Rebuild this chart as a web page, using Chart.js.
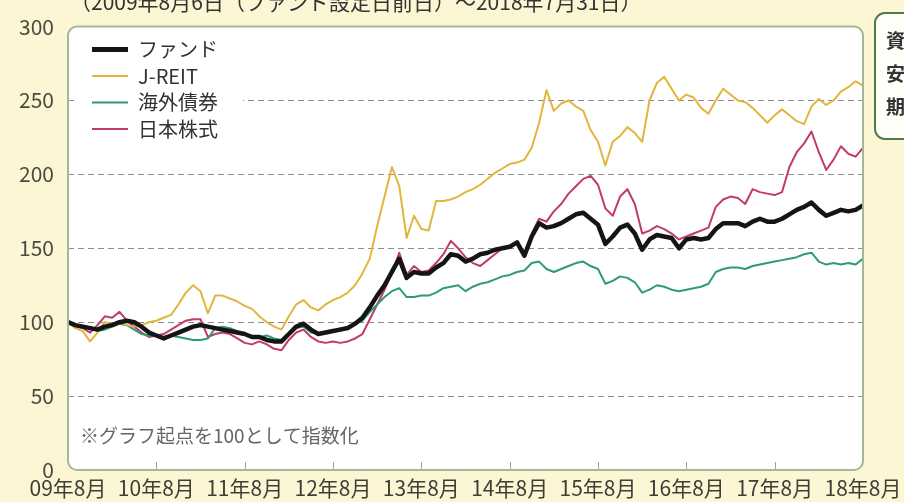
<!DOCTYPE html>
<html>
<head>
<meta charset="utf-8">
<script src="https://cdn.jsdelivr.net/npm/chart.js@4.4.1/dist/chart.umd.min.js"></script>
<style>
  html, body { margin: 0; padding: 0; background: #fcf6d4; overflow: hidden; }
  canvas { display: block; }
</style>
</head>
<body>
<canvas id="myChart" width="904" height="502"></canvas>
<script>
// tick labels on the x axis (one per year, every 12 months)
const yearLabels = ["09年8月", "10年8月", "11年8月", "12年8月", "13年8月", "14年8月", "15年8月", "16年8月", "17年8月", "18年8月"];
const seriesNames = ["ファンド", "J-REIT", "海外債券", "日本株式"];

// monthly index values, 2009/8 .. 2018/7 (start = 100)
const fund = [
  100, 98, 97, 96, 95, 97, 98, 100, 101, 100,
  97, 93, 91, 89, 91, 93, 95, 97, 98, 97,
  96, 95, 94, 93, 92, 90, 90, 88, 87, 87,
  92, 97, 99, 95, 92, 93, 94, 95, 96, 99,
  103, 110, 118, 125, 134, 143, 130, 134, 133, 133,
  137, 140, 146, 145, 141, 143, 146, 147, 149, 150,
  151, 154, 145, 158, 167, 164, 165, 167, 170, 173,
  174, 170, 166, 153, 158, 164, 166, 160, 149, 156,
  159, 158, 157, 150, 156, 157, 156, 157, 163, 167,
  167, 167, 165, 168, 170, 168, 168, 170, 173, 176,
  178, 181, 176, 172, 174, 176, 175, 176, 179
];
const jreit = [
  100, 96, 94, 87, 93, 100, 99, 100, 98, 97,
  98, 100, 101, 103, 105, 112, 120, 125, 121, 106,
  118, 118, 116, 114, 111, 109, 104, 100, 97, 95,
  104, 112, 115, 110, 108, 112, 115, 117, 120, 125,
  133, 143, 165, 185, 205, 192, 157, 172, 163, 162,
  182, 182, 183, 185, 188, 190, 193, 197, 201, 204,
  207, 208, 210, 218, 235, 257, 243, 248, 250, 246,
  243, 230, 222, 206, 222, 226, 232, 228, 222, 250,
  262, 266, 258, 250, 254, 252, 245, 241, 250, 258,
  254, 250, 249, 245, 240, 235, 240, 244, 240, 236,
  234, 246, 251, 247, 250, 256, 259, 263, 260
];
const foreignBonds = [
  100, 98, 96, 97, 94, 95, 97, 99, 98, 95,
  92, 91, 91, 90, 91, 90, 89, 88, 88, 89,
  96, 97, 96, 94, 92, 90, 90, 91, 89, 88,
  92, 96, 97, 93, 92, 93, 94, 96, 97, 99,
  101, 107, 112, 117, 121, 123, 117, 117, 118, 118,
  120, 123, 124, 125, 121, 124, 126, 127, 129, 131,
  132, 134, 135, 140, 141, 136, 134, 136, 138, 140,
  141, 138, 136, 126, 128, 131, 130, 127, 120, 122,
  125, 124, 122, 121, 122, 123, 124, 126, 134, 136,
  137, 137, 136, 138, 139, 140, 141, 142, 143, 144,
  146, 147, 141, 139, 140, 139, 140, 139, 143
];
const japanStocks = [
  100, 97, 96, 93, 98, 104, 103, 107, 101, 97,
  93, 90, 91, 92, 95, 98, 101, 102, 102, 90,
  92, 93, 92, 89, 86, 85, 87, 85, 82, 81,
  88, 93, 95, 90, 87, 86, 87, 86, 87, 89,
  92, 102, 112, 122, 133, 147, 132, 138, 134, 135,
  140, 146, 155, 150, 144, 140, 138, 142, 146, 150,
  151, 154, 147, 160, 170, 168, 175, 180, 187, 192,
  197, 199, 193, 177, 172, 185, 190, 180, 160, 162,
  165, 163, 160, 156, 158, 160, 162, 164, 178, 183,
  185, 184, 180, 190, 188, 187, 186, 188, 205, 215,
  221, 229, 215, 203, 210, 219, 214, 212, 218
];

// one category per month
const months = [];
for (let i = 0; i < fund.length; i++) {
  const yy = 9 + Math.floor((7 + i) / 12);
  const mm = ((7 + i) % 12) + 1;
  months.push(String(yy).padStart(2, "0") + "年" + mm + "月");
}

const FONT = '"Noto Sans CJK JP", "Noto Sans", sans-serif';

const framePlugin = {
  id: "frame",
  beforeDraw(chart) {
    const { ctx, chartArea: a } = chart;
    ctx.save();
    ctx.fillStyle = "#fcf6d4";
    ctx.fillRect(0, 0, chart.width, chart.height);
    ctx.fillStyle = "#ffffff";
    ctx.beginPath();
    ctx.roundRect(a.left, a.top, a.right - a.left, a.bottom - a.top, 9);
    ctx.fill();
    ctx.restore();
  },
  beforeDatasetsDraw(chart) {
    const { ctx, chartArea: a } = chart;
    ctx.save();
    // legend box
    ctx.fillStyle = "#ffffff";
    ctx.fillRect(a.left + 9, a.top + 8, 166, 108);
    ctx.textBaseline = "middle";
    ctx.font = "20px " + FONT;
    chart.data.datasets.forEach((ds, i) => {
      const y = a.top + 23 + i * 26.5;
      ctx.strokeStyle = ds.borderColor;
      ctx.lineWidth = i === 0 ? 5 : 2;
      ctx.beginPath();
      ctx.moveTo(a.left + 24, y);
      ctx.lineTo(a.left + 60, y);
      ctx.stroke();
      ctx.fillStyle = "#333333";
      ctx.fillText(ds.label, a.left + 70, y);
    });
    // note
    ctx.fillStyle = "#666666";
    ctx.font = "19px " + FONT;
    ctx.fillText("※グラフ起点を100として指数化", a.left + 12, 436);
    ctx.restore();
  },
  afterDatasetsDraw(chart) {
    const { ctx, chartArea: a } = chart;
    const x = chart.scales.x;
    ctx.save();
    ctx.strokeStyle = "#9aa88e";
    ctx.lineWidth = 1;
    for (let i = 12; i < months.length - 1; i += 12) {
      const px = Math.round(x.getPixelForValue(i)) + 0.5;
      ctx.beginPath();
      ctx.moveTo(px, a.bottom);
      ctx.lineTo(px, a.bottom - 8);
      ctx.stroke();
    }
    ctx.strokeStyle = "#a3b995";
    ctx.lineWidth = 2;
    ctx.beginPath();
    ctx.roundRect(a.left, a.top, a.right - a.left, a.bottom - a.top, 9);
    ctx.stroke();
    ctx.restore();
  },
  afterDraw(chart) {
    const { ctx, chartArea: a } = chart;
    ctx.save();
    // title, top half cut off by the page edge
    ctx.fillStyle = "#333333";
    ctx.font = "21px " + FONT;
    ctx.textBaseline = "alphabetic";
    ctx.fillText("（2009年8月6日（ファンド設定日前日）～2018年7月31日）", a.left + 2, 10);
    // callout box on the right
    ctx.fillStyle = "#fffef8";
    ctx.strokeStyle = "#4f7d4a";
    ctx.lineWidth = 2;
    ctx.beginPath();
    ctx.roundRect(875, 13, 60, 126, 10);
    ctx.fill();
    ctx.stroke();
    ctx.fillStyle = "#333333";
    ctx.font = "bold 19px " + FONT;
    ctx.textBaseline = "middle";
    ["資", "安", "期"].forEach((t, i) => ctx.fillText(t, 886, 41 + i * 33));
    ctx.restore();
  }
};

const lineStyle = (label, data, color, width) => ({
  label: label,
  data: data,
  borderColor: color,
  borderWidth: width,
  pointRadius: 0,
  tension: 0,
  borderJoinStyle: "round",
  fill: false
});

new Chart(document.getElementById("myChart").getContext("2d"), {
  type: "line",
  data: {
    labels: months,
    datasets: [
      lineStyle(seriesNames[0], fund, "#151515", 4.5),
      lineStyle(seriesNames[1], jreit, "#e3b53c", 2),
      lineStyle(seriesNames[2], foreignBonds, "#2f9a77", 2),
      lineStyle(seriesNames[3], japanStocks, "#c23a6a", 2)
    ]
  },
  options: {
    responsive: false,
    animation: false,
    layout: { padding: { top: 20, right: 41, left: 0, bottom: 0 } },
    plugins: { legend: { display: false }, tooltip: { enabled: false } },
    scales: {
      x: {
        grid: { display: false },
        border: { display: false },
        ticks: {
          autoSkip: false,
          maxRotation: 0,
          padding: 0,
          color: "#3e3e36",
          font: { family: FONT, size: 21, lineHeight: 1.0 },
          callback: (val, idx) => (idx % 12 === 0 ? yearLabels[idx / 12] : null)
        },
        afterFit(scale) { scale.height = 32; }
      },
      y: {
        min: 0,
        max: 300,
        grid: {
          drawTicks: false,
          color: (c) => (c.tick.value > 0 && c.tick.value < 300 ? "#8c8c8c" : "rgba(0,0,0,0)")
        },
        border: { display: false, dash: [6, 4] },
        ticks: {
          stepSize: 50,
          padding: 14,
          color: "#4a4a40",
          font: { family: FONT, size: 21 }
        },
        afterFit(scale) { scale.width = 68; }
      }
    }
  },
  plugins: [framePlugin]
});
</script>
</body>
</html>
